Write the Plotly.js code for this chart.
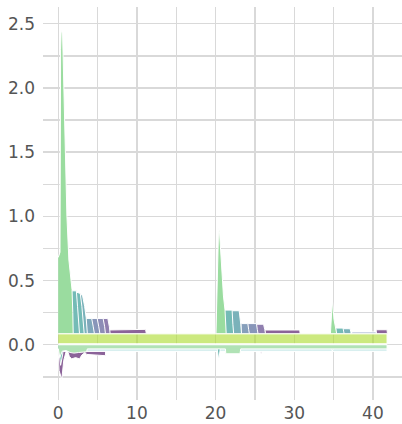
<!DOCTYPE html>
<html>
<head>
<meta charset="utf-8">
<script src="https://cdn.plot.ly/plotly-3.0.1.min.js"></script>
<style>html,body{margin:0;padding:0;background:#fff}#chart{width:402px;height:424px}</style>
</head>
<body>
<div id="chart"></div>
<script>
// ---- data ----
const BAND_TOP = 0.085;
const BAND_BOTTOM = 0.008;
const bandX = [0, 41.8];

// positive layers stacked on the band (top profiles)
const e1GreenX = [0, 0.22, 0.3, 0.38, 0.55, 0.72, 0.9, 1.1, 1.35, 1.75, 1.85, 1.9];
const e1GreenY = [0.68, 0.72, 2.3, 2.45, 2.42, 2.0, 1.5, 1.0, 0.66, 0.43, 0.25, 0.085];
const e1Teal1X = [1.75, 2.3, 2.45, 2.6, 2.7];
const e1Teal1Y = [0.42, 0.42, 0.3, 0.15, 0.085];
const e1Teal2X = [2.3, 2.8, 3.0, 3.2, 3.3];
const e1Teal2Y = [0.41, 0.4, 0.3, 0.17, 0.085];
const e1Teal3X = [2.8, 3.1, 3.35, 3.55, 3.7];
const e1Teal3Y = [0.4, 0.38, 0.3, 0.21, 0.085];
const e1B1X = [3.55, 4.25, 4.45, 4.6];
const e1B1Y = [0.205, 0.205, 0.14, 0.085];
const e1B2X = [4.25, 4.95, 5.15, 5.3];
const e1B2Y = [0.205, 0.205, 0.14, 0.085];
const e1B3X = [4.95, 5.7, 5.9, 6.0];
const e1B3Y = [0.205, 0.205, 0.14, 0.085];
const e1B4X = [5.7, 6.3, 6.5, 6.6];
const e1B4Y = [0.205, 0.205, 0.14, 0.085];
const e1PX = [6.3, 10.8, 11.1, 11.2];
const e1PY = [0.115, 0.115, 0.12, 0.085];

const e2GreenX = [20.05, 20.3, 20.38, 20.5, 20.75, 21.0, 21.2, 21.3, 21.35];
const e2GreenY = [0.085, 0.8, 0.91, 0.88, 0.6, 0.38, 0.27, 0.15, 0.085];
const e2T1X = [21.2, 22.1, 22.2, 22.3];
const e2T1Y = [0.27, 0.27, 0.16, 0.085];
const e2T2X = [22.1, 23.0, 23.2, 23.3];
const e2T2Y = [0.265, 0.265, 0.16, 0.085];
const e2B1X = [23.3, 24.1, 24.2, 24.3];
const e2B1Y = [0.165, 0.165, 0.12, 0.085];
const e2B2X = [24.1, 25.2, 25.3, 25.4];
const e2B2Y = [0.165, 0.165, 0.12, 0.085];
const e2B3X = [25.2, 26.1, 26.25, 26.35];
const e2B3Y = [0.16, 0.16, 0.12, 0.085];
const e2PX = [26.35, 30.7, 30.75];
const e2PY = [0.115, 0.115, 0.085];

const e3GreenX = [34.6, 34.75, 34.85, 35.05, 35.3, 35.4];
const e3GreenY = [0.085, 0.33, 0.35, 0.2, 0.13, 0.085];
const e3T1X = [35.35, 36.2, 36.3, 36.35];
const e3T1Y = [0.13, 0.13, 0.1, 0.085];
const e3T2X = [36.2, 37.1, 37.2, 37.25];
const e3T2Y = [0.125, 0.125, 0.1, 0.085];
const e3BX = [37.4, 40.4, 40.45];
const e3BY = [0.1, 0.1, 0.085];
const e3PX = [40.5, 41.8, 41.85];
const e3PY = [0.117, 0.117, 0.085];

// negative layers below the band (bottom profiles)
const negPurpleX = [0, 0.1, 0.45, 0.7, 1.1, 1.4, 1.7, 2.2, 2.7, 3.0, 3.4, 3.6, 6.0, 6.05];
const negPurpleY = [-0.05, -0.2, -0.27, -0.12, -0.03, -0.09, -0.11, -0.1, -0.11, -0.08, -0.06, -0.075, -0.085, -0.03];
const negPurple2X = [25.6, 25.8, 26.0];
const negPurple2Y = [-0.04, -0.07, -0.04];
const negTealX = [0.05, 0.3, 0.55, 0.7];
const negTealY = [-0.03, -0.16, -0.08, -0.03];
const negTeal2X = [20.2, 20.4, 20.6];
const negTeal2Y = [-0.03, -0.12, -0.03];
const negTeal3X = [34.7, 34.85, 35.0];
const negTeal3Y = [-0.02, -0.05, -0.02];
const negCyanX = [0, 41.8];
const negCyanY = [-0.052, -0.052];
const negGreenX = [0, 0.2, 0.5, 1.0, 1.5, 2.0, 2.6, 3.0, 3.6, 3.7, 21.25, 21.3, 23.1, 23.2, 41.8];
const negGreenY = [-0.03, -0.1, -0.05, -0.045, -0.06, -0.065, -0.06, -0.06, -0.055, -0.032, -0.032, -0.07, -0.07, -0.032, -0.032];

// ---- colours ----
const C = {
  green: '#9adc9f', teal: '#74bbb6', teal2: '#7ab2ba', teal3: '#7fa8bb',
  b1: '#869fbb', b2: '#8896b9', b3: '#8d8db6', b4: '#907faf', p: '#8b6399',
  band: 'rgba(173,220,48,0.62)', ngreen: '#b0e2b5', ncyan: '#d6eeee', light: '#a9b7d2'
};

function poly(xs, ys, base, color) {
  return {
    type: 'scatter', mode: 'lines',
    x: xs.concat([xs[xs.length - 1], xs[0]]),
    y: ys.concat([base, base]),
    fill: 'toself', fillcolor: color,
    line: {color: 'white', width: 1},
    hoverinfo: 'skip', showlegend: false
  };
}

const traces = [
  poly(negPurpleX, negPurpleY, 0, C.p),
  poly(negPurple2X, negPurple2Y, 0, C.p),
  poly(negCyanX, negCyanY, 0, C.ncyan),
  poly(negTealX, negTealY, 0, C.teal),
  poly(negTeal2X, negTeal2Y, 0, C.teal),
  poly(negTeal3X, negTeal3Y, 0, C.teal),
  poly(negGreenX, negGreenY, 0, C.ngreen),

  poly(e1PX, e1PY, BAND_TOP, C.p),
  poly(e1B4X, e1B4Y, BAND_TOP, C.b4),
  poly(e1B3X, e1B3Y, BAND_TOP, C.b3),
  poly(e1B2X, e1B2Y, BAND_TOP, C.b2),
  poly(e1B1X, e1B1Y, BAND_TOP, C.teal3),
  poly(e1Teal3X, e1Teal3Y, BAND_TOP, C.teal2),
  poly(e1Teal2X, e1Teal2Y, BAND_TOP, C.teal),
  poly(e1Teal1X, e1Teal1Y, BAND_TOP, C.teal),
  poly(e1GreenX, e1GreenY, BAND_TOP, C.green),

  poly(e2PX, e2PY, BAND_TOP, C.p),
  poly(e2B3X, e2B3Y, BAND_TOP, C.b4),
  poly(e2B2X, e2B2Y, BAND_TOP, C.b2),
  poly(e2B1X, e2B1Y, BAND_TOP, C.b1),
  poly(e2T2X, e2T2Y, BAND_TOP, C.teal2),
  poly(e2T1X, e2T1Y, BAND_TOP, C.teal),
  poly(e2GreenX, e2GreenY, BAND_TOP, C.green),

  poly(e3PX, e3PY, BAND_TOP, C.p),
  poly(e3BX, e3BY, BAND_TOP, C.light),
  poly(e3T2X, e3T2Y, BAND_TOP, C.teal2),
  poly(e3T1X, e3T1Y, BAND_TOP, C.teal),
  poly(e3GreenX, e3GreenY, BAND_TOP, C.green),

  poly(bandX, [BAND_TOP, BAND_TOP], BAND_BOTTOM, C.band)
];

const gridColor = '#d9d9d9';
const layout = {
  width: 402, height: 424,
  margin: {l: 43, r: 0, t: 7, b: 24, pad: 0},
  paper_bgcolor: 'white', plot_bgcolor: 'white',
  font: {family: 'DejaVu Sans, sans-serif', size: 17, color: '#555'},
  showlegend: false,
  xaxis: {
    range: [-1.94, 43.7], tickvals: [0, 10, 20, 30, 40], ticks: '', ticklabelstandoff: 1,
    showgrid: true, gridcolor: gridColor, gridwidth: 1.4, zeroline: false, showline: false,
    minor: {dtick: 5, tick0: 0, showgrid: true, gridcolor: gridColor, gridwidth: 1.4},
    fixedrange: true
  },
  yaxis: {
    range: [-0.43, 2.63], dtick: 0.5, tick0: 0, ticks: '', tickformat: '.1f', ticklabelstandoff: 7,
    showgrid: true, gridcolor: gridColor, gridwidth: 1.4, zeroline: false, showline: false,
    minor: {dtick: 0.25, tick0: 0, showgrid: true, gridcolor: gridColor, gridwidth: 1.4},
    fixedrange: true
  }
};

Plotly.newPlot('chart', traces, layout, {staticPlot: true, displayModeBar: false});
</script>
</body>
</html>
